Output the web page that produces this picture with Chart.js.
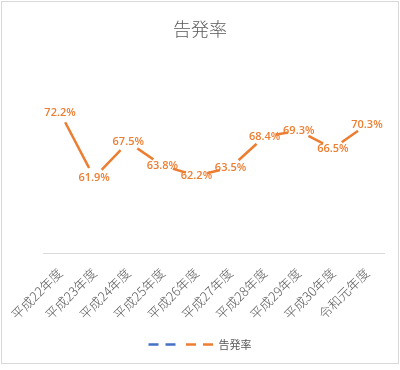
<!DOCTYPE html>
<html>
<head>
<meta charset="utf-8">
<script src="https://cdn.jsdelivr.net/npm/chart.js@4"></script>
<style>
  body { margin: 0; background: #fff; }
  #box { position: absolute; left: 1px; top: 1px; width: 396px; height: 361px; border: 1px solid #d9d9d9; }
</style>
</head>
<body>
<div id="box"><canvas id="chart" width="396" height="361"></canvas></div>
<script>
const years = ["平成22年度", "平成23年度", "平成24年度", "平成25年度", "平成26年度",
    "平成27年度", "平成28年度", "平成29年度", "平成30年度", "令和元年度"];
const rates = [72.2, 61.9, 67.5, 63.8, 62.2, 63.5, 68.4, 69.3, 66.5, 70.3];
const otherSeries = [];   // blue series in the legend, no values shown

const orange = '#ED7D31';
const blue = '#4472C4';
const gray = '#595959';

// value labels centered on each point
const pointLabels = {
    id: 'pointLabels',
    afterDatasetsDraw(chart) {
        let ctx = chart.ctx;
        let meta = chart.getDatasetMeta(1);
        ctx.save();
        ctx.font = '600 11px "Open Sans"';
        ctx.fillStyle = orange;
        ctx.textAlign = 'center';
        ctx.textBaseline = 'middle';
        meta.data.forEach((pt, i) => {
            ctx.fillText(rates[i].toFixed(1) + '%', pt.x, pt.y);
        });
        ctx.restore();
    }
};

const chart = new Chart(document.getElementById('chart'), {
    type: 'line',
    data: {
        labels: years,
        datasets: [{
            label: '',
            data: otherSeries,
            borderColor: blue,
            backgroundColor: blue,
            borderWidth: 2.5
        }, {
            label: '告発率',
            data: rates,
            borderColor: orange,
            backgroundColor: orange,
            borderWidth: 2.5,
            tension: 0,
            pointRadius: 11,
            pointHoverRadius: 11,
            pointBackgroundColor: '#fff',
            pointBorderWidth: 0
        }]
    },
    options: {
        responsive: false,
        animation: false,
        layout: { padding: { left: 0, right: 0, top: 0, bottom: 3 } },
        scales: {
            x: {
                offset: true,
                grid: { display: false, drawTicks: false },
                border: { display: true, color: '#d9d9d9', width: 1 },
                ticks: {
                    color: gray,
                    font: { family: '"Noto Sans CJK JP"', size: 13, weight: 300 },
                    minRotation: 45,
                    maxRotation: 45,
                    padding: 12
                },
                afterFit: s => {
                    s.height = 81;
                    s.paddingLeft = 0;
                    s.paddingRight = 0;
                }
            },
            y: {
                min: 50,
                max: 80,
                grid: { display: false },
                border: { display: false },
                ticks: { display: false },
                afterFit: s => { s.width = 41; }
            },
            y2: {
                position: 'right',
                grid: { display: false },
                border: { display: false },
                ticks: { display: false },
                afterFit: s => { s.width = 14; }
            }
        },
        plugins: {
            title: {
                display: true,
                text: '告発率',
                color: gray,
                font: { family: '"Noto Sans CJK JP"', size: 18, weight: 300 },
                padding: { top: 16, bottom: 23.5 }
            },
            legend: {
                position: 'bottom',
                labels: {
                    color: gray,
                    font: { family: '"Noto Sans CJK JP"', size: 11 },
                    usePointStyle: true,
                    pointStyle: 'line',
                    pointStyleWidth: 27,
                    padding: 5,
                    generateLabels: c => Chart.defaults.plugins.legend.labels.generateLabels(c).map(item => {
                        item.lineDash = [10, 7];
                        item.lineWidth = 2.5;
                        return item;
                    })
                }
            },
            tooltip: { enabled: false }
        }
    },
    plugins: [pointLabels]
});
</script>
</body>
</html>
